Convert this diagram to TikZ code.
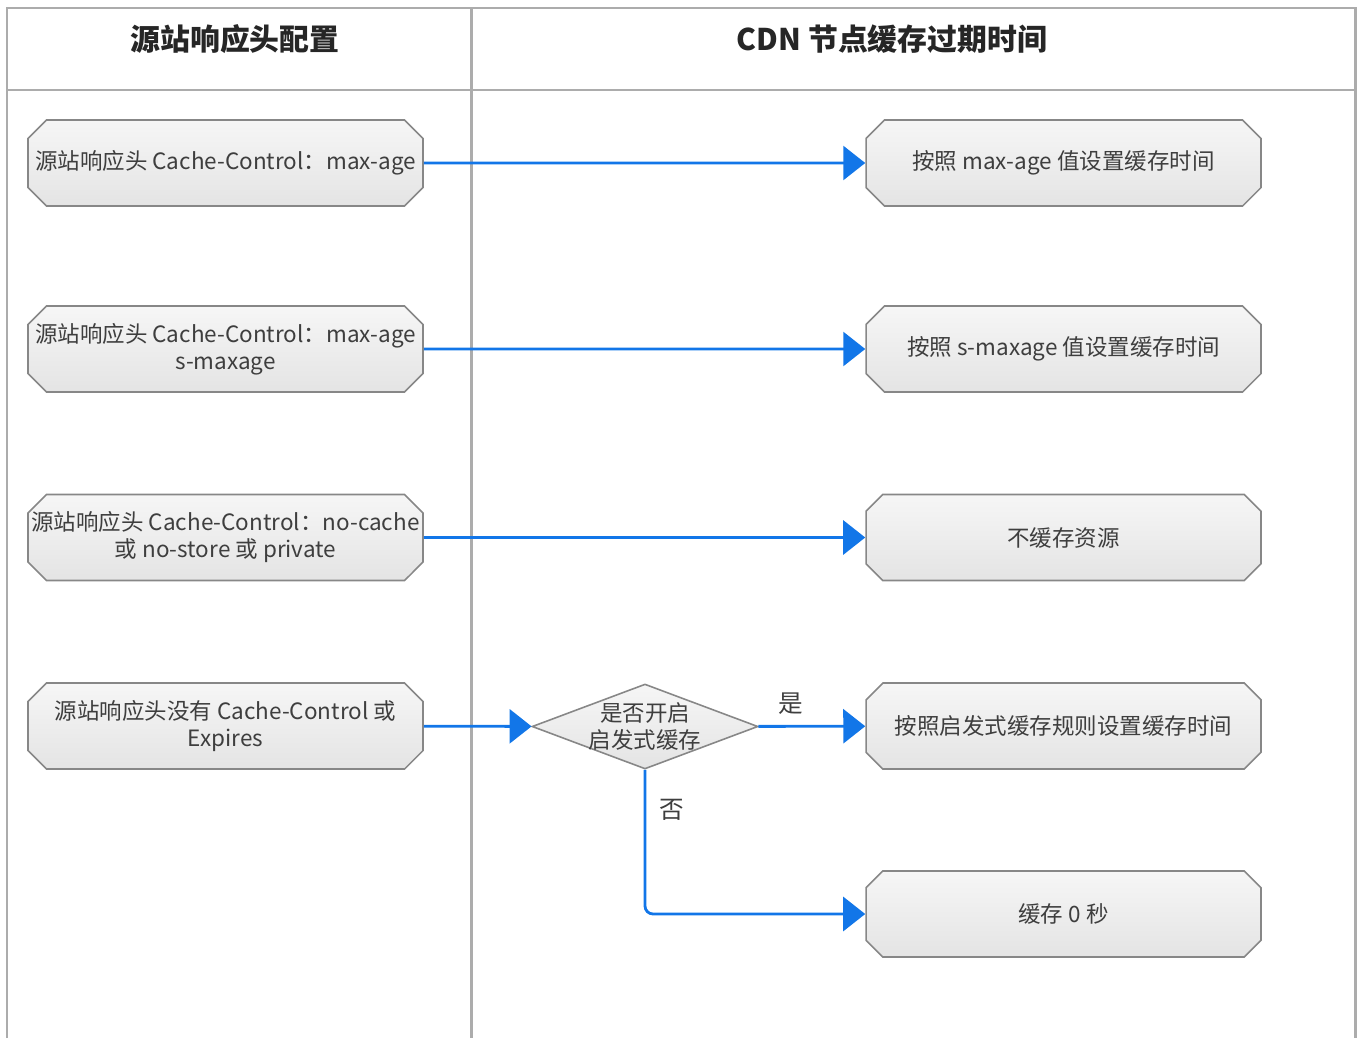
\documentclass[tikz,border=0pt]{standalone}
\usepackage{fontspec}
\setmainfont{Noto Sans CJK SC}
\usepackage{xcolor}
\usetikzlibrary{shapes.misc,shapes.geometric,arrows.meta}

\begin{document}
\begin{tikzpicture}[x=0.02cm, y=-0.02cm,
	every node/.style={font=\fontsize{12.8}{15.4}\selectfont, text=txtgray},
	cachebox/.style={chamfered rectangle, chamfered rectangle xsep=0.24cm,
		minimum width=7.9cm, minimum height=1.72cm, inner xsep=-0.2cm, inner ysep=0pt, align=center,
		draw=boxline, line width=0.9pt, top color=boxtop, bottom color=boxbot},
	decision/.style={diamond, minimum width=4.52cm, minimum height=1.7cm, inner sep=0pt,
		draw=boxline, line width=0.9pt, top color=boxtop, bottom color=boxbot},
	flow/.style={draw=flowblue, line width=1.6pt, -{Triangle[length=0.44cm, width=0.68cm]}},
	branch/.style={font=\fontsize{14}{16}\selectfont},
	frame/.style={draw=framegray, line width=1.7pt}]
		% Define colors
		\definecolor{txtgray}{RGB}{62, 62, 62}
		\definecolor{framegray}{RGB}{172, 172, 172}
		\definecolor{boxline}{RGB}{135, 135, 135}
		\definecolor{boxtop}{RGB}{246, 246, 246}
		\definecolor{boxbot}{RGB}{228, 228, 228}
		\definecolor{flowblue}{RGB}{18, 118, 232}
		
		\useasboundingbox (0, 0) rectangle (1358, 1038);
		
		% ===== LANES =====
		\draw[frame] (7, 1038) -- (7, 8) -- (1355, 8) -- (1355, 1038);
		\draw[frame] (471, 8) -- (471, 1038);
		\draw[frame] (7, 90) -- (1355, 90);
		\node[font=\fontsize{17}{20}\selectfont\bfseries, text=black!85] (head1) at (235, 39) {源站响应头配置};
		\node[font=\fontsize{17}{20}\selectfont\bfseries, text=black!85] (head2) at (892, 39) {CDN 节点缓存过期时间};
		
		% ===== ORIGIN HEADERS (left lane) =====
		\node[cachebox] (src1) at (225.5, 163) {源站响应头 Cache-Control：max-age};
		\node[cachebox] (src2) at (225.5, 349) {源站响应头 Cache-Control：max-age\\s-maxage};
		\node[cachebox] (src3) at (225.5, 537.5) {源站响应头 Cache-Control：no-cache\\或 no-store 或 private};
		\node[cachebox] (src4) at (225.5, 726) {源站响应头没有 Cache-Control 或\\Expires};
		
		% ===== CDN RESULT (right lane) =====
		\node[cachebox] (dst1) at (1063.5, 163) {按照 max-age 值设置缓存时间};
		\node[cachebox] (dst2) at (1063.5, 349) {按照 s-maxage 值设置缓存时间};
		\node[cachebox] (dst3) at (1063.5, 537.5) {不缓存资源};
		\node[cachebox] (dst4) at (1063.5, 726) {按照启发式缓存规则设置缓存时间};
		\node[cachebox] (dst5) at (1063.5, 914) {缓存 0 秒};
		
		% Heuristic caching check
		\node[decision] (judge) at (645, 726.5) {};
		\node[align=center, inner sep=0pt] (judgetxt) at (judge.center) {是否开启\\启发式缓存};
		
		% ===== ARROWS =====
		\draw[flow] (src1) -- (dst1);
		\draw[flow] (src2) -- (dst2);
		\draw[flow] (src3) -- (dst3);
		\draw[flow] (src4) -- (judge);
		\draw[flow] (judge) -- node[branch, above=0.1cm, pos=0.3] (yes) {是} (dst4);
		\draw[flow, rounded corners=0.16cm] (judge.south) |- node[branch, pos=0.14, right=0.14cm] (no) {否} (dst5);
		
	\end{tikzpicture}
\end{document}
